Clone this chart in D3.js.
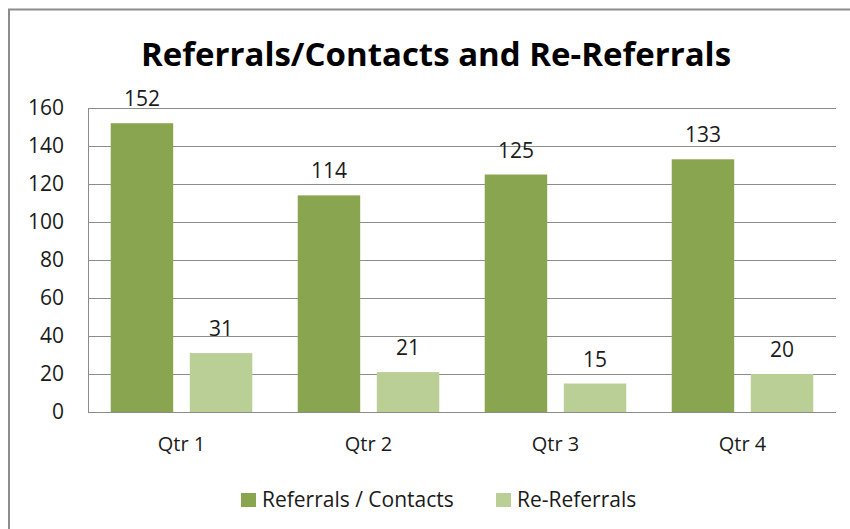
<!DOCTYPE html>
<html>
<head>
	<title>Referrals/Contacts and Re-Referrals</title>
	<style type="text/css">
		body {
			margin: 0;
			background: #fff;
			font-family: "Open Sans", Lato, sans-serif;
		}

		.grid line {
			stroke: #8c8c8c;
			stroke-width: 1;
		}

		.tick-label, .value-label {
			font-size: 21px;
			fill: #1a1a1a;
		}

		.cat-label {
			font-size: 20px;
			fill: #1a1a1a;
		}

		.legend-text {
			font-size: 21px;
			fill: #1a1a1a;
		}
	</style>
</head>
<body>
	<div id="chart"></div>
	<script src="https://d3js.org/d3.v7.min.js"></script>
	<script type="text/javascript">
		var quarters = ["Qtr 1", "Qtr 2", "Qtr 3", "Qtr 4"];
		var seriesNames = ["Referrals / Contacts", "Re-Referrals"];
		var referrals = [152, 114, 125, 133];
		var reReferrals = [31, 21, 15, 20];
		var yTicks = [0, 20, 40, 60, 80, 100, 120, 140, 160];
		var colors = ["#8aa54f", "#b9cf96"];

		var width = 850,
			height = 529;

		var margin = {top: 108, right: 14, bottom: 117, left: 88};

		var svg = d3.select("#chart")
			.append("svg")
			.attr("width", width)
			.attr("height", height);

		// outer chart border (runs off the right and bottom of the picture)
		svg.append("rect")
			.attr("x", 9)
			.attr("y", 9.5)
			.attr("width", 860)
			.attr("height", 540)
			.attr("fill", "none")
			.attr("stroke", "#8c8c8c")
			.attr("stroke-width", 2);

		svg.append("text")
			.attr("x", 436)
			.attr("y", 66)
			.attr("text-anchor", "middle")
			.style("font-size", "33px")
			.style("font-weight", "bold")
			.style("fill", "#000")
			.text("Referrals/Contacts and Re-Referrals");

		var x0 = d3.scaleBand()
			.domain(quarters)
			.range([margin.left, width - margin.right])
			.paddingInner(0.243)
			.paddingOuter(0.1215);

		var x1 = d3.scaleBand()
			.domain(d3.range(seriesNames.length))
			.range([0, x0.bandwidth()])
			.paddingInner(0.21);

		var y = d3.scaleLinear()
			.domain([0, 160])
			.range([height - margin.bottom, margin.top]);

		// gridlines
		svg.append("g")
			.attr("class", "grid")
			.selectAll("line")
			.data(yTicks)
			.enter()
			.append("line")
			.attr("x1", margin.left)
			.attr("x2", width - margin.right)
			.attr("y1", function(d) { return Math.round(y(d)) + 0.5; })
			.attr("y2", function(d) { return Math.round(y(d)) + 0.5; });

		// left axis line
		svg.append("line")
			.attr("x1", margin.left + 0.5)
			.attr("x2", margin.left + 0.5)
			.attr("y1", y(160))
			.attr("y2", y(0))
			.attr("stroke", "#8c8c8c");

		// tick labels
		svg.selectAll(".tick-label")
			.data(yTicks)
			.enter()
			.append("text")
			.attr("class", "tick-label")
			.attr("x", 64)
			.attr("y", function(d) { return y(d) + 7; })
			.attr("text-anchor", "end")
			.text(function(d) { return d; });

		var data = quarters.map(function(q, i) {
			return {quarter: q, values: [referrals[i], reReferrals[i]]};
		});

		var groups = svg.selectAll(".group")
			.data(data)
			.enter()
			.append("g")
			.attr("class", "group")
			.attr("transform", function(d) { return "translate(" + x0(d.quarter) + ",0)"; });

		groups.selectAll("rect")
			.data(function(d) { return d.values; })
			.enter()
			.append("rect")
			.attr("x", function(d, i) { return x1(i); })
			.attr("width", x1.bandwidth())
			.attr("y", function(d) { return y(d); })
			.attr("height", function(d) { return y(0) - y(d); })
			.style("fill", function(d, i) { return colors[i]; });

		groups.selectAll(".value-label")
			.data(function(d) { return d.values; })
			.enter()
			.append("text")
			.attr("class", "value-label")
			.attr("x", function(d, i) { return x1(i) + x1.bandwidth() / 2; })
			.attr("y", function(d) { return y(d) - 17; })
			.attr("text-anchor", "middle")
			.text(function(d) { return d; });

		// category labels
		svg.selectAll(".cat-label")
			.data(quarters)
			.enter()
			.append("text")
			.attr("class", "cat-label")
			.attr("x", function(d) { return x0(d) + x0.bandwidth() / 2; })
			.attr("y", 451)
			.attr("text-anchor", "middle")
			.text(function(d) { return d; });

		// legend
		var legendX = [241, 496];
		var legend = svg.selectAll(".legend-item")
			.data(seriesNames)
			.enter()
			.append("g")
			.attr("class", "legend-item")
			.attr("transform", function(d, i) { return "translate(" + legendX[i] + ",493)"; });

		legend.append("rect")
			.attr("width", 15)
			.attr("height", 14)
			.style("fill", function(d, i) { return colors[i]; });

		legend.append("text")
			.attr("class", "legend-text")
			.attr("x", 21)
			.attr("y", 14)
			.text(function(d) { return d; });
	</script>
</body>
</html>
